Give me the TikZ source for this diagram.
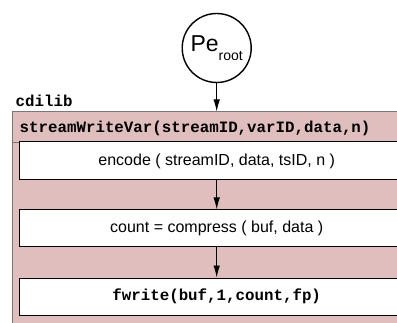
\documentclass[tikz,border=0pt]{standalone}
\usepackage{fontspec}
\setmainfont{Liberation Sans}
\setmonofont{Liberation Mono}
\usetikzlibrary{arrows.meta}
\definecolor{libpink}{RGB}{224,190,190}
\definecolor{libedge}{RGB}{120,120,120}
\tikzset{
  stepbox/.style={draw=black, line width=1pt, fill=white, inner sep=0pt,
    minimum width=394.5pt, font=\fontsize{16}{19}\selectfont},
  codetext/.style={font=\fontsize{15.8}{19}\selectfont\ttfamily\bfseries},
  flow/.style={line width=0.9pt, -{Latex[length=12pt,width=6.5pt]}},
}
\begin{document}
\begin{tikzpicture}[x=1pt,y=-1pt]
  \useasboundingbox (0,0) rectangle (397,323);
  \clip (0,0) rectangle (397,323);

  % library container with its header line
  \node[draw=libedge, fill=libpink, line width=0.9pt, inner sep=0pt,
        minimum width=409pt, minimum height=240pt, anchor=north west]
        (lib) at (12,111.5) {};
  \node[codetext, anchor=base west, inner sep=0pt] (libname) at (15.5,107) {cdilib};
  \draw[libedge, line width=0.9pt] (lib.west |- 0,142) -- (lib.east |- 0,142);
  \node[codetext, anchor=west, inner sep=0pt] (hdr) at (19.5,128.5)
        {streamWriteVar(streamID,varID,data,n)};

  % processing steps
  \node[stepbox, minimum height=38pt] (enc) at (216.7,161)
        {encode ( streamID, data, tsID, n )};
  \node[stepbox, minimum height=36.5pt] (comp) at (216.7,228.2)
        {count = compress ( buf, data )};
  \node[stepbox, minimum height=37.5pt, codetext] (fw) at (216.7,296.8)
        {fwrite(buf,1,count,fp)};

  % root process
  \node[circle, draw=black, line width=1.4pt, minimum size=69pt, inner sep=0pt,
        font=\fontsize{23}{26}\selectfont] (root) at (216.7,48)
        {Pe\raisebox{-9pt}{\fontsize{14}{16}\selectfont root}};

  % connectors
  \draw[flow] (root) -- (root |- lib.north);
  \draw[flow] (enc) -- (comp);
  \draw[flow] (comp) -- (fw);
\end{tikzpicture}
\end{document}
